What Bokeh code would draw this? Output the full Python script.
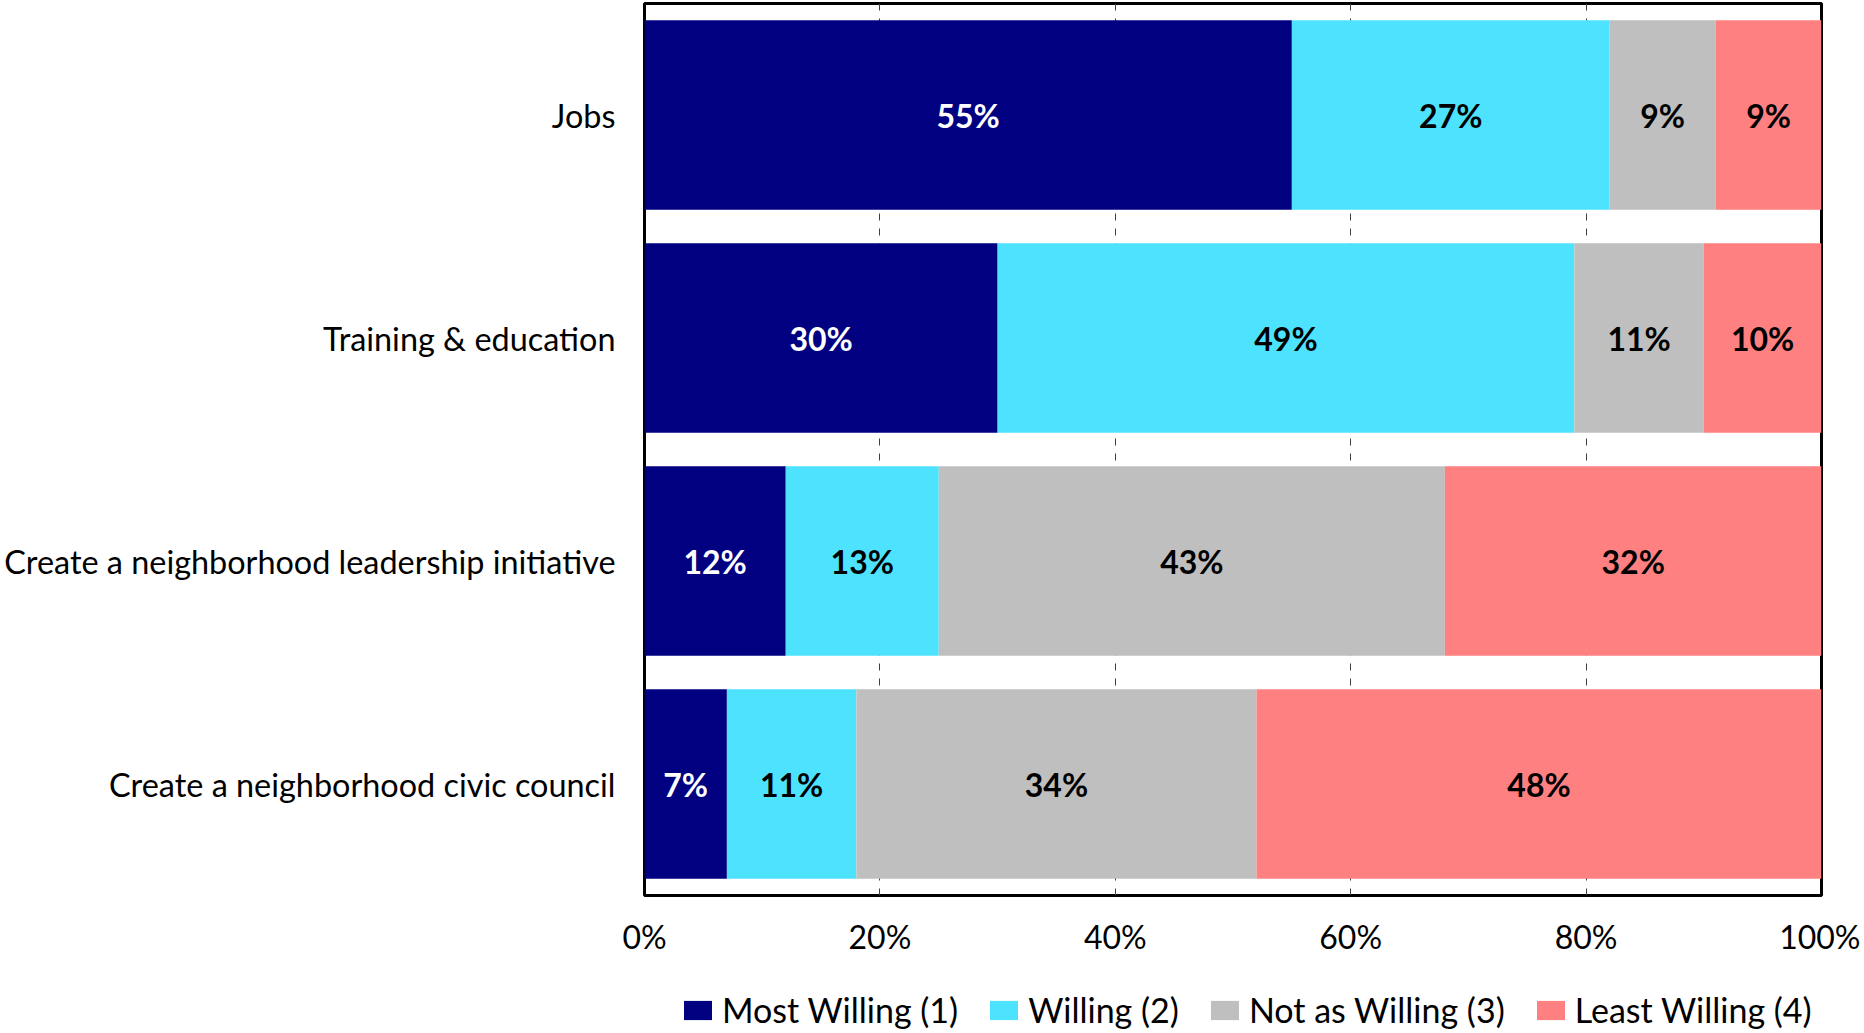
import pandas as pd
from bokeh.plotting import figure
from bokeh.layouts import column
from bokeh.models import (ColumnDataSource, FactorRange, Range1d, FixedTicker,
                          NumeralTickFormatter, Legend, LegendItem)
from bokeh.core.properties import value
from bokeh.embed import file_html
from bokeh.resources import INLINE

# ---- data ----
categories = ["Jobs", "Training & education",
              "Create a neighborhood leadership initiative",
              "Create a neighborhood civic council"]
series = ["Most Willing (1)", "Willing (2)", "Not as Willing (3)", "Least Willing (4)"]
most_willing = [0.55, 0.30, 0.12, 0.07]
willing = [0.27, 0.49, 0.13, 0.11]
not_as_willing = [0.09, 0.11, 0.43, 0.34]
least_willing = [0.09, 0.10, 0.32, 0.48]
x_ticks = [0, 0.2, 0.4, 0.6, 0.8, 1.0]

colors = ["#000080", "#4DE3FF", "#BFBFBF", "#FF8080"]
label_colors = ["white", "black", "black", "black"]
FONT = "Lato"
FS = "32px"

keys = ["s1", "s2", "s3", "s4"]
df = pd.DataFrame({"cat": categories, "s1": most_willing, "s2": willing,
                   "s3": not_as_willing, "s4": least_willing})
source = ColumnDataSource(df)

W = 1860
p = figure(width=W, height=961, output_backend="svg", toolbar_location=None,
           y_range=FactorRange(factors=list(reversed(categories))),
           x_range=Range1d(0, 1),
           min_border_left=644, min_border_right=W - 1821, min_border_top=3,
           min_border_bottom=66)

p.hbar_stack(keys, y="cat", height=0.85, color=colors, source=source, line_color=None)

# value labels
cum = df[keys].cumsum(axis=1)
for i, k in enumerate(keys):
    centers = cum[k] - df[k] / 2
    lab = ColumnDataSource(dict(x=list(centers), y=categories,
                                t=[f"{round(v*100)}%" for v in df[k]]))
    p.text(x="x", y="y", text="t", source=lab, text_align="center",
           text_baseline="middle", text_font=value(FONT), text_font_style="bold",
           text_font_size=FS, text_color=label_colors[i])

# axes
p.xaxis.ticker = FixedTicker(ticks=x_ticks)
p.xaxis.formatter = NumeralTickFormatter(format="0%")
for ax in (p.xaxis[0], p.yaxis[0]):
    ax.axis_line_color = None
    ax.major_tick_line_color = None
    ax.minor_tick_line_color = None
    ax.major_tick_in = 0
    ax.major_tick_out = 0
    ax.major_label_text_font = FONT
    ax.major_label_text_font_size = FS
    ax.major_label_text_color = "black"
p.xaxis.major_label_standoff = 21
p.yaxis.major_label_standoff = 29
p.yaxis.major_label_text_font_size = "32.4px"

p.ygrid.grid_line_color = None
p.xgrid.grid_line_color = "#404040"
p.xgrid.grid_line_dash = "7 8"
p.xgrid.grid_line_width = 1

p.outline_line_color = "black"
p.outline_line_width = 3
p.outline_line_alpha = 1

# ---- legend strip (its renderers are hidden; only the legend shows) ----
p2 = figure(width=W, height=69, output_backend="svg", toolbar_location=None,
            x_range=Range1d(0, 1), y_range=FactorRange(factors=categories),
            x_axis_location=None, y_axis_location=None, min_border=0)
p2.grid.visible = False
p2.outline_line_color = None
leg_renderers = p2.hbar_stack(keys, y="cat", height=0.85, color=colors,
                              source=source, line_color=None)
for r in leg_renderers:
    r.visible = False

legend = Legend(items=[LegendItem(label=s, renderers=[r]) for s, r in zip(series, leg_renderers)],
                orientation="horizontal", location=(36, 0),
                glyph_width=35, glyph_height=24, spacing=28, label_standoff=7,
                padding=0, margin=0, border_line_color=None,
                background_fill_alpha=0, label_text_font=FONT,
                label_text_font_size="34px", label_text_color="black",
                inactive_fill_alpha=0)
p2.add_layout(legend, "center")

open("out.html", "w").write(file_html(column(p, p2), INLINE))
